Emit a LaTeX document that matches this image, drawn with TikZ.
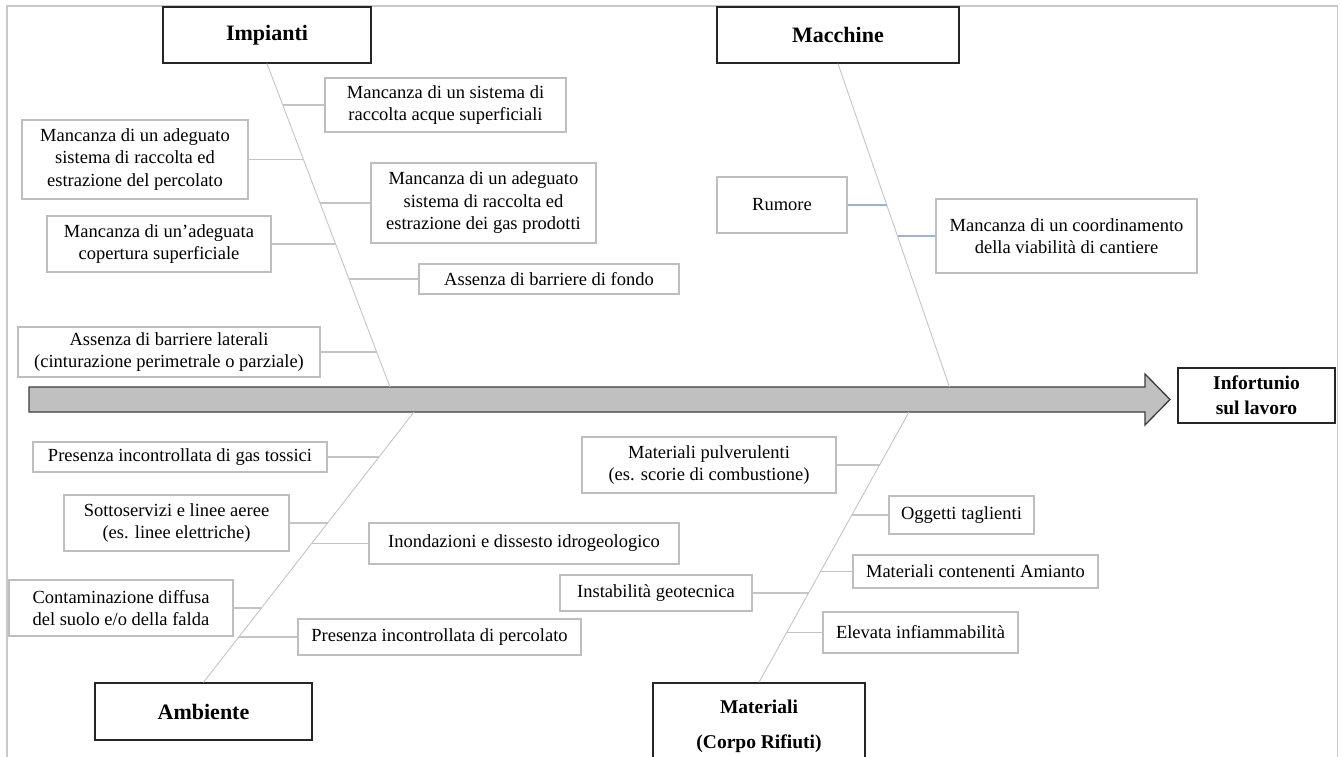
\documentclass[tikz,border=0pt]{standalone}
\usepackage{fontspec}
\setmainfont{Liberation Serif}
\usetikzlibrary{positioning, calc}

\definecolor{framegray}{RGB}{200,200,200}
\definecolor{boxgray}{RGB}{190,190,190}
\definecolor{spinegray}{RGB}{196,196,196}
\definecolor{branchblue}{RGB}{160,178,208}
\definecolor{arrowfill}{RGB}{192,192,192}
\definecolor{arrowdraw}{RGB}{60,60,60}

\newcommand{\causefont}{\fontsize{18.5}{22.5}\selectfont}
\newcommand{\headfont}{\fontsize{22}{26}\selectfont\bfseries}

\begin{document}
\begin{tikzpicture}[x=1pt, y=-1pt,
    cause/.style = {draw=boxgray, line width=1.2pt, align=center, inner sep=0pt, font=\causefont},
    head/.style = {draw=black!85, line width=1.3pt, align=center, inner sep=0pt, font=\headfont},
    spine/.style = {draw=spinegray, line width=0.9pt},
    branch/.style = {draw=spinegray, line width=1.1pt},
    mbranch/.style = {draw=branchblue, line width=1.1pt}]
    \useasboundingbox (0,0) rectangle (1341,757);
    \draw[framegray, line width=1.3pt] (7,757) -- (7,6) -- (1337.5,6) -- (1337.5,757);

    % categories
    \node[head, minimum width=208pt, minimum height=56pt] (imp) at (267,35) {Impianti};
    \node[head, minimum width=242pt, minimum height=56pt] (mac) at (838,35) {Macchine};
    \node[head, minimum width=217pt, minimum height=57pt] (amb) at (203.5,711.5) {Ambiente};
    \node[head, font=\fontsize{19.5}{35}\selectfont\bfseries, minimum width=212pt, minimum height=87pt] (mat) at (759,726.5) {Materiali\\(Corpo Rifiuti)};
    \node[head, font=\fontsize{19.5}{25}\selectfont\bfseries, minimum width=157pt, minimum height=55pt] (out) at (1256.5,395.5) {Infortunio\\sul lavoro};

    % main arrow
    \draw[fill=arrowfill, draw=arrowdraw, line width=1.3pt] (29,387) -- (1145,387) -- (1145,374) -- (1170,399.5) -- (1145,425) -- (1145,412) -- (29,412) -- cycle;
    \coordinate (impEnd) at (390,387);
    \coordinate (macEnd) at (949.5,387);
    \coordinate (ambEnd) at (414,412);
    \coordinate (matEnd) at (909,412);

    % spines
    \draw[spine] (imp.south) -- coordinate[pos=0.1296] (i1) coordinate[pos=0.2978] (i2)
        coordinate[pos=0.4321] (i3) coordinate[pos=0.5586] (i4) coordinate[pos=0.6667] (i5)
        coordinate[pos=0.8920] (i6) (impEnd);
    \draw[spine] (mac.south) -- coordinate[pos=0.4383] (m1) coordinate[pos=0.5340] (m2) (macEnd);
    \draw[spine] (amb.north) -- coordinate[pos=0.8339] (a1) coordinate[pos=0.5904] (a2)
        coordinate[pos=0.5148] (a3) coordinate[pos=0.2768] (a4) coordinate[pos=0.1697] (a5) (ambEnd);
    \draw[spine] (mat.north) -- coordinate[pos=0.8044] (r1) coordinate[pos=0.6199] (r2)
        coordinate[pos=0.4114] (r3) coordinate[pos=0.3321] (r4) coordinate[pos=0.1863] (r5) (matEnd);

    % Impianti
    \node[cause, minimum width=241pt, minimum height=54pt] (imp1) at (445.5,105) {Mancanza di un sistema di\\raccolta acque superficiali};
    \node[cause, minimum width=226pt, minimum height=79pt] (imp2) at (135,159.5) {Mancanza di un adeguato\\sistema di raccolta ed\\estrazione del percolato};
    \node[cause, minimum width=225pt, minimum height=80pt] (imp3) at (483.5,203) {Mancanza di un adeguato\\sistema di raccolta ed\\estrazione dei gas prodotti};
    \node[cause, minimum width=224pt, minimum height=56pt] (imp4) at (159,244) {Mancanza di un’adeguata\\copertura superficiale};
    \node[cause, minimum width=260pt, minimum height=30pt] (imp5) at (549,279) {Assenza di barriere di fondo};
    \node[cause, minimum width=302pt, minimum height=50pt] (imp6) at (169,352) {Assenza di barriere laterali\\(cinturazione perimetrale o parziale)};
    \draw[branch] (imp1.west) -- (imp1.west -| i1);
    \draw[branch] (imp2.east) -- (imp2.east -| i2);
    \draw[branch] (imp3.west) -- (imp3.west -| i3);
    \draw[branch] (imp4.east) -- (imp4.east -| i4);
    \draw[branch] (imp5.west) -- (imp5.west -| i5);
    \draw[branch] (imp6.east) -- (imp6.east -| i6);

    % Macchine
    \node[cause, minimum width=130pt, minimum height=56pt] (mac1) at (782,205) {Rumore};
    \node[cause, minimum width=261pt, minimum height=74pt] (mac2) at (1066.5,236) {Mancanza di un coordinamento\\della viabilità di cantiere};
    \draw[mbranch] (mac1.east) -- (mac1.east -| m1);
    \draw[mbranch] (mac2.west) -- (mac2.west -| m2);

    % Ambiente
    \node[cause, minimum width=294pt, minimum height=30pt] (amb1) at (180,457) {Presenza incontrollata di gas tossici};
    \node[cause, minimum width=225pt, minimum height=56pt] (amb2) at (176.5,523) {Sottoservizi e linee aeree\\(es. linee elettriche)};
    \node[cause, minimum width=310pt, minimum height=41pt] (amb3) at (524,543.5) {Inondazioni e dissesto idrogeologico};
    \node[cause, align=left, minimum width=224pt, minimum height=56pt] (amb4) at (121,608) {Contaminazione diffusa\\del suolo e/o della falda};
    \node[cause, minimum width=283pt, minimum height=36pt] (amb5) at (439.5,637) {Presenza incontrollata di percolato};
    \draw[branch] (amb1.east) -- (amb1.east -| a1);
    \draw[branch] (amb2.east) -- (amb2.east -| a2);
    \draw[branch] (amb3.west) -- (amb3.west -| a3);
    \draw[branch] (amb4.east) -- (amb4.east -| a4);
    \draw[branch] (amb5.west) -- (amb5.west -| a5);

    % Materiali
    \node[cause, minimum width=254pt, minimum height=56pt] (mat1) at (709,465) {Materiali pulverulenti\\(es. scorie di combustione)};
    \node[cause, minimum width=145pt, minimum height=38pt] (mat2) at (961.5,515) {Oggetti taglienti};
    \node[cause, minimum width=245pt, minimum height=33pt] (mat3) at (975.5,571.5) {Materiali contenenti Amianto};
    \node[cause, minimum width=192pt, minimum height=36pt] (mat4) at (656,593) {Instabilità geotecnica};
    \node[cause, minimum width=195pt, minimum height=41pt] (mat5) at (920.5,632.5) {Elevata infiammabilità};
    \draw[branch] (mat1.east) -- (mat1.east -| r1);
    \draw[branch] (mat2.west) -- (mat2.west -| r2);
    \draw[branch] (mat3.west) -- (mat3.west -| r3);
    \draw[branch] (mat4.east) -- (mat4.east -| r4);
    \draw[branch] (mat5.west) -- (mat5.west -| r5);
\end{tikzpicture}
\end{document}
